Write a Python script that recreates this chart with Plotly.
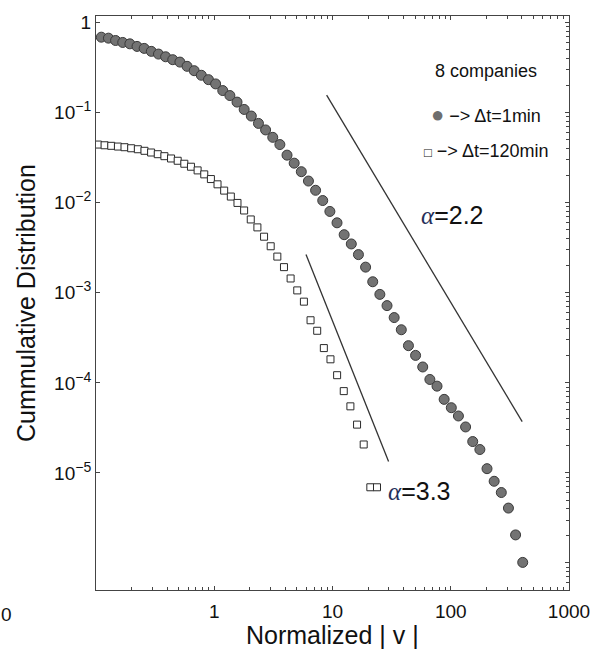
import plotly.graph_objects as go

# ---------------- data ----------------
# Delta t = 1 min (filled circles)
circle_v = [0.1109, 0.1274, 0.1464, 0.1683, 0.1934, 0.2223, 0.2555, 0.2936, 0.3375, 0.3879,
            0.4457, 0.5123, 0.5888, 0.6766, 0.7777, 0.8933, 1.027, 1.180, 1.356, 1.558,
            1.791, 2.058, 2.365, 2.718, 3.124, 3.589, 4.125, 4.741, 5.448, 6.261,
            7.194, 8.268, 9.502, 10.92, 12.55, 14.42, 16.57, 19.05, 21.89, 25.15,
            28.91, 33.22, 38.18, 43.87, 50.42, 57.94, 66.59, 76.52, 87.94, 101.1,
            116.1, 133.5, 153.4, 176.3, 202.6, 232.8, 267.6, 307.5, 353.4, 406.1]
circle_cdf = [0.690, 0.673, 0.634, 0.603, 0.582, 0.545, 0.518, 0.480, 0.448, 0.418,
              0.388, 0.365, 0.3275, 0.2929, 0.2606, 0.2330, 0.2089, 0.1762, 0.1551, 0.1312,
              0.1087, 0.0919, 0.0761, 0.0644, 0.0533, 0.0443, 0.0338, 0.02754, 0.02214, 0.01743,
              0.01376, 0.01059, 0.00801, 0.00599, 0.00442, 0.00349, 0.002657, 0.001929, 0.001327, 0.000961,
              0.000721, 0.000531, 0.000389, 0.000259, 0.000202, 0.0001502, 0.0001091, 9.20e-5, 6.56e-5, 5.30e-5,
              4.29e-5, 3.24e-5, 2.23e-5, 1.82e-5, 1.115e-5, 8.08e-6, 6.06e-6, 4.07e-6, 2.05e-6, 1.015e-6]

# Delta t = 120 min (open squares)
square_v = [0.1039, 0.1182, 0.1346, 0.1532, 0.1743, 0.1984, 0.2258, 0.2570, 0.2924, 0.3328,
            0.3788, 0.4311, 0.4906, 0.5583, 0.6354, 0.7232, 0.8230, 0.9369, 1.066, 1.213,
            1.381, 1.572, 1.789, 2.036, 2.317, 2.637, 3.001, 3.416, 3.887, 4.424,
            5.035, 5.731, 6.522, 7.423, 8.447, 9.614, 10.94, 12.45, 14.17, 16.13,
            18.36, 20.89, 23.78]
square_cdf = [0.0443, 0.0435, 0.0429, 0.0421, 0.0414, 0.0403, 0.0393, 0.03776, 0.03616, 0.03463,
              0.03291, 0.03104, 0.02928, 0.02713, 0.02514, 0.02288, 0.02067, 0.01834, 0.01603, 0.01365,
              0.01172, 0.00996, 0.00821, 0.00653, 0.00533, 0.00420, 0.00329, 0.002526, 0.001929, 0.001443,
              0.001064, 0.000798, 0.000496, 0.000379, 0.0002434, 0.0001827, 0.0001217, 8.10e-5, 5.49e-5, 3.44e-5,
              2.07e-5, 6.93e-6, 6.93e-6]

# guide lines (power-law slopes)
fit22_v = [8.92, 401.9]
fit22_cdf = [0.1567, 3.71e-5]
fit33_v = [5.97, 29.8]
fit33_cdf = [0.002657, 1.343e-5]

x_tickvals = [1, 10, 100, 1000]
x_ticktext = ["1", "10", "100", "1000"]
y_tickvals = [1, 1e-1, 1e-2, 1e-3, 1e-4, 1e-5]
y_exponents = ["", "−1", "−2", "−3", "−4", "−5"]
y_ticktext = ["1"] + ["10<sup><span style='font-size:14px'>%s</span></sup>" % e
                      for e in y_exponents[1:]]

# ---------------- figure ----------------
FONT = "Liberation Sans, Arial, sans-serif"
AX = "#444444"
TXT = "#111111"

x_minor = [m * 10 ** e for e in range(-1, 3) for m in range(2, 10)]
y_minor = [m * 10 ** e for e in range(-7, 0) for m in range(2, 10)]

fig = go.Figure()
for vx, vy in ((fit22_v, fit22_cdf), (fit33_v, fit33_cdf)):
    fig.add_trace(go.Scatter(x=vx, y=vy, mode="lines", yaxis="y2",
                             line=dict(color="#333333", width=1.3),
                             showlegend=False, hoverinfo="skip"))

fig.add_trace(go.Scatter(x=square_v, y=square_cdf, mode="markers", showlegend=False,
                         marker=dict(symbol="square", size=7, color="white",
                                     line=dict(color="#2a2a2a", width=1))))
fig.add_trace(go.Scatter(x=circle_v, y=circle_cdf, mode="markers", showlegend=False,
                         marker=dict(symbol="circle", size=10, color="#737373",
                                     line=dict(color="#3a3a3a", width=1))))

yrange = [-6.3, 0.074]
fig.update_layout(
    width=602, height=654,
    margin=dict(l=96, r=24, t=13, b=64),
    paper_bgcolor="white", plot_bgcolor="white",
    font=dict(family=FONT, color=TXT),
    xaxis=dict(type="log", range=[-1, 3], showline=True, linecolor=AX, linewidth=1,
               mirror="ticks", ticks="inside", ticklen=4, tickcolor=AX,
               tickmode="array", tickvals=x_tickvals, ticktext=x_ticktext,
               tickfont=dict(size=19, family=FONT, color=TXT), ticklabelstandoff=4,
               showgrid=False, zeroline=False,
               minor=dict(ticks="inside", ticklen=3, tickcolor=AX, tickmode="array",
                          tickvals=x_minor, showgrid=False)),
    yaxis=dict(type="log", range=yrange, showline=True, linecolor=AX, linewidth=1,
               mirror=True, ticks="inside", ticklen=4, tickcolor=AX,
               tickmode="array", tickvals=y_tickvals, ticktext=y_ticktext,
               tickfont=dict(size=19, family=FONT, color=TXT),
               showgrid=False, zeroline=False),
    yaxis2=dict(type="log", range=yrange, overlaying="y", side="right",
                showline=True, linecolor=AX, linewidth=1,
                ticks="inside", ticklen=4, tickcolor=AX, showticklabels=False,
                tickmode="array", tickvals=[10 ** e for e in range(-7, 1)],
                showgrid=False, zeroline=False,
                minor=dict(ticks="inside", ticklen=3, tickcolor=AX, tickmode="array",
                           tickvals=y_minor, showgrid=False)),
)

alpha = "<span style='font-family:Liberation Serif;color:#26305a'><i>α</i></span>"
ann = [
    dict(text="Cummulative Distribution", x=-0.148, y=0.5, textangle=-90,
         font=dict(size=25)),
    dict(text="Normalized | v |", x=0.5, y=-0.079, font=dict(size=25)),
    dict(text="8 companies", x=0.8237, y=0.9047, font=dict(size=18)),
    dict(text="<span style='color:#6e6e6e;font-size:22px'>●</span> −> Δt=1min",
         x=0.8237, y=0.8279, font=dict(size=18)),
    dict(text="<span style='font-size:13px'>□</span> −> Δt=120min", x=0.8237, y=0.7655,
         font=dict(size=18)),
    dict(text=alpha + "=2.2", x=0.752, y=0.6529, font=dict(size=25)),
    dict(text=alpha + "=3.3", x=0.6836, y=0.1733, font=dict(size=25)),
    dict(text="0", x=-0.1898, y=-0.0425, font=dict(size=19)),
]
for a in ann:
    a.update(xref="paper", yref="paper", showarrow=False, xanchor="center", yanchor="middle")
    a["font"].setdefault("family", FONT)
    a["font"].setdefault("color", TXT)
fig.update_layout(annotations=ann)

fig.write_html("out.html")
